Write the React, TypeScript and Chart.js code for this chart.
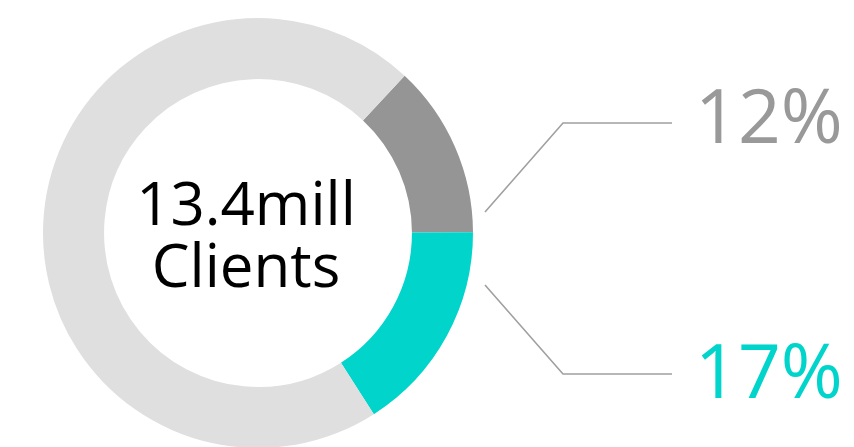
import React, { useEffect, useRef } from "react";
import { Chart, registerables } from "chart.js";

Chart.register(...registerables);

// Data
const sliceNames = ["Segment A", "Segment B", "Rest"];
const sliceValues = [13, 16, 71];
const sliceColors = ["#959595", "#00d4cb", "#dfdfdf"];
const centerLines = ["13.4mill", "Clients"];
const calloutLabels = ["12%", "17%"];
const calloutColors = ["#999999", "#00d4cb"];

const FONT = "'Open Sans'";

const overlayPlugin = {
  id: "overlay",
  afterDraw(chart: any) {
    const ctx = chart.ctx as CanvasRenderingContext2D;
    const arc = chart.getDatasetMeta(0).data[0] as any;
    if (!arc) return;
    const cx = arc.x;
    const cy = arc.y;
    const R = arc.outerRadius;
    ctx.save();

    // center text
    ctx.fillStyle = "#000000";
    ctx.font = `60px ${FONT}`;
    ctx.textAlign = "center";
    ctx.textBaseline = "alphabetic";
    ctx.fillText(centerLines[0], cx - 12, cy - 8);
    ctx.fillText(centerLines[1], cx - 12, cy + 54);

    // leader lines
    const lines = [
      { sy: cy - 21, by: cy - 110 },
      { sy: cy + 52, by: cy + 141 },
    ];
    ctx.strokeStyle = "#a0a0a0";
    ctx.lineWidth = 1.6;
    lines.forEach((l, i) => {
      ctx.beginPath();
      ctx.moveTo(cx + R + 12, l.sy);
      ctx.lineTo(cx + R + 90, l.by);
      ctx.lineTo(cx + R + 199, l.by);
      ctx.stroke();

      ctx.fillStyle = calloutColors[i];
      ctx.font = `75px ${FONT}`;
      ctx.textAlign = "left";
      ctx.fillText(calloutLabels[i], cx + R + 222, l.by + (i === 0 ? 20 : 24));
    });
    ctx.restore();
  },
};

export default function App() {
  const ref = useRef<HTMLCanvasElement | null>(null);
  useEffect(() => {
    if (!ref.current) return;
    const chart = new Chart(ref.current, {
      type: "doughnut",
      data: {
        labels: sliceNames,
        datasets: [
          {
            data: sliceValues,
            backgroundColor: sliceColors,
            borderWidth: 0,
          },
        ],
      },
      options: {
        responsive: false,
        animation: false,
        rotation: 43,
        cutout: "71.6%",
        layout: { padding: { left: 43, right: 381, top: 18, bottom: 18 } },
        plugins: {
          legend: { display: false },
          tooltip: { enabled: false },
        },
      },
      plugins: [overlayPlugin],
    });
    return () => chart.destroy();
  }, []);
  return (
    <div
      style={{
        position: "fixed",
        left: 0,
        top: 0,
        width: 854,
        height: 447,
        overflow: "hidden",
        background: "#ffffff",
      }}
    >
      <canvas ref={ref} width={854} height={466} style={{ display: "block" }} />
    </div>
  );
}
